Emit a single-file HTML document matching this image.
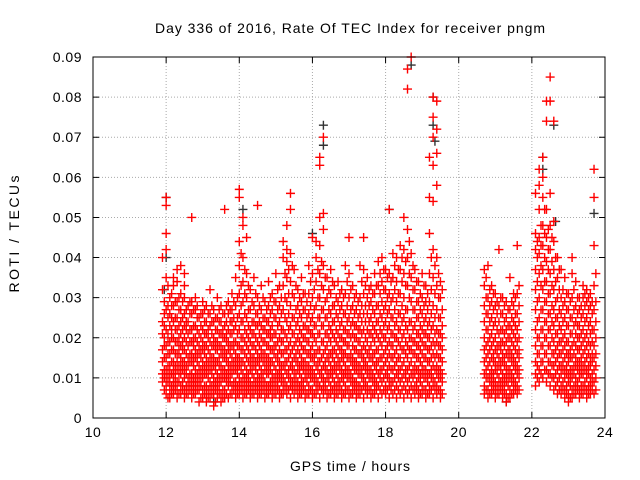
<!DOCTYPE html>
<html><head><meta charset="utf-8"><style>
html,body{margin:0;padding:0;background:#fff;}
svg{display:block;font-family:"Liberation Sans",sans-serif;}
</style></head><body>
<svg id="chart" width="640" height="480">
<text x="350" y="33" font-size="14" text-anchor="middle" textLength="390" lengthAdjust="spacing">Day 336 of 2016, Rate Of TEC Index for receiver pngm</text>
<text x="350" y="471" font-size="14" text-anchor="middle" textLength="120" lengthAdjust="spacing">GPS time / hours</text>
<text transform="translate(19,234) rotate(-90)" font-size="14" text-anchor="middle" textLength="117" lengthAdjust="spacing">ROTI / TECUs</text>
<g id="grid"></g>
<g id="ticks"></g>
<g id="black"></g>
<g id="red"></g>
<rect x="93" y="57" width="512" height="361" fill="none" stroke="#000" stroke-width="1"/>
</svg>
<script>
const xTicks = [10,12,14,16,18,20,22,24];
const yTicks = [0,0.01,0.02,0.03,0.04,0.05,0.06,0.07,0.08,0.09];
const yTickLabels = ["0","0.01","0.02","0.03","0.04","0.05","0.06","0.07","0.08","0.09"];
const segStarts = [11.9, 20.7, 22.1];
const colStep = 0.1;
const redSeg1 = ["9 11 14 17 21 24 32 40","6 8 10 12 15 18 22 27 35 42 46 53 55","5 7 9 11 13 16 19 23 26 30","6 8 10 12 14 17 20 24 28 33 35","5 7 9 12 14 16 19 22 25 29 34 37","6 8 11 13 15 18 21 24 27 31 38","5 7 10 12 14 17 20 23 26 30 33 36","6 8 10 13 15 18 21 24 28","5 7 9 11 14 16 19 22 26 29 50","6 8 10 12 15 17 20 23 27 30","4 7 9 11 13 16 18 21 25","5 7 10 12 14 17 19 22 26 29","4 6 8 11 13 15 18 21 24 28","5 7 9 12 14 16 19 23 26 32","3 6 8 10 13 15 18 20 24 27","5 7 9 11 14 17 19 22 25 30","4 6 9 11 13 16 18 21 24 28","5 7 10 12 15 17 20 23 26 52","5 8 10 12 14 17 19 22 26 29","6 8 11 13 15 18 21 24 27 31","5 7 9 12 14 16 19 23 28 35","6 8 10 13 15 18 22 26 31 38 44 55 57","5 7 9 11 14 17 20 24 29 34 40 48 50","6 8 10 12 15 18 21 25 30 36 45","5 7 9 12 14 16 19 22 27 32","6 8 10 13 15 18 21 24 28 35","5 7 9 11 14 16 19 23 26 30 53","6 8 10 12 15 17 20 23 27 33","5 7 9 12 14 16 19 22 25 29","6 8 11 13 15 18 21 24 28 34","5 7 9 11 14 17 20 23 27 31","6 8 10 12 15 18 21 25 29 36","5 7 10 12 14 17 20 24 28 33","6 8 10 13 16 19 22 27 33 40 44","6 8 11 14 17 20 24 29 35 39 42 48","5 8 10 13 16 19 23 28 34 41 52 56","6 8 10 12 15 18 21 25 30 37","5 7 9 12 14 17 20 24 28 32","6 8 10 13 15 18 21 25 29 35","5 7 10 12 14 17 20 23 27 31","6 8 11 13 16 19 22 26 31 38","5 7 10 12 15 18 21 25 30 36 45","6 8 10 13 16 19 23 28 34 40 44","5 8 11 14 17 21 25 30 36 43 50 63 65","6 8 10 13 16 19 23 27 32 38 47 51 70","5 7 10 12 15 18 21 25 30 35","6 8 11 13 16 19 22 26 31 37","5 7 9 12 14 17 20 24 28 33","6 8 10 13 15 18 21 25 29 34","5 7 10 12 15 17 20 24 28 32","6 8 11 13 16 19 22 26 31 38","5 7 10 12 15 18 21 25 30 36 45","6 8 10 13 15 18 21 24 28 33","5 7 9 12 14 17 20 23 27 31","6 8 11 13 16 19 22 26 30 38","5 8 10 13 15 18 22 26 31 37 45","6 8 11 13 16 19 22 26 30 35","5 7 10 12 15 18 21 25 29 33","6 8 10 13 16 19 22 26 31 36","5 8 11 14 17 20 24 28 33 39","6 9 12 15 18 21 25 29 34 40","6 8 11 14 17 20 24 28 32 37","5 8 10 13 16 19 23 27 31 36 52","6 9 12 15 18 21 25 30 35 41","5 8 11 14 17 20 24 29 34 40","6 9 12 15 18 22 26 31 37 43","5 8 11 14 17 21 25 30 36 42 50","6 9 12 15 18 22 27 33 40 47 82 87","5 8 11 14 17 20 24 29 35 41 90","6 8 11 13 16 19 23 27 32 37","5 7 10 12 15 18 21 25 29 34","6 8 11 13 16 19 22 26 30 36","5 7 10 12 15 18 21 25 29 33","6 8 11 14 17 20 24 29 36 46 55 65","5 8 10 13 16 19 23 28 35 42 54 63 70 75 80","6 8 11 13 16 19 22 27 33 40 58 66 72 79","5 7 10 12 15 18 21 25 30 34"];
const redSeg2 = ["6 8 11 14 17 20 24 28 33 37","5 7 10 13 16 19 22 26 30 38","6 8 10 12 15 18 21 25 29 33","5 7 9 12 14 17 20 24 28 31","6 8 10 13 15 18 21 24 28 42","5 7 9 11 14 16 19 22 26 30","4 6 9 11 13 16 19 22 25 29","5 7 10 12 15 17 20 23 27 35","6 8 10 13 15 18 21 24 28 31","6 8 11 13 16 19 22 26 31 43"];
const redSeg3 = ["8 11 14 18 22 27 32 37 42 46 56","9 12 16 20 25 30 36 41 45 52 58 62","10 14 18 22 27 32 37 43 48 55 60 65","9 12 16 20 24 29 34 39 45 52 74 79","8 11 14 18 22 26 31 36 42 48 56 79 85","7 10 13 16 19 23 27 32 37 44 49 74","6 9 12 15 18 21 25 30 35 40","6 8 11 13 16 19 22 26 30 37","5 7 10 12 15 18 21 25 29 35","4 6 9 11 14 16 19 23 27 31","5 7 10 12 15 18 21 25 30 36 40","6 8 10 13 15 18 21 24 28 34","5 7 10 12 14 17 20 23 27 30","6 8 11 13 16 19 22 26 30 33","5 7 10 12 15 18 21 25 29 32","6 8 10 13 15 18 21 24 28 31","6 9 12 15 18 22 27 33 43 55 62"];
const halfStarts = [11.95, 20.75, 22.15];
const redHalf1 = ["7 10 12 15 18 20 23 26 29","5 9 11 13 16 19 21 25 28 33","6 8 11 14 17 20 22 25 28 31","7 9 11 13 16 19 22 25 29","6 9 11 13 16 18 20 23 27 30","7 9 12 14 17 19 22 25 29","6 8 11 13 16 19 22 24 27","7 9 11 14 16 19 22 26 29","6 8 10 13 15 18 20 23 27","7 9 11 14 16 19 22 25 28","5 8 10 12 15 17 20 23 26","6 8 11 13 16 18 21 24 27","5 7 10 12 14 17 20 22 26","6 8 11 13 15 18 21 24 28","4 7 9 12 14 17 19 22 25","6 8 10 13 15 18 21 24 27","5 7 10 12 15 17 20 22 26","6 9 11 14 16 19 21 24 28","6 9 11 13 16 18 21 24 27","7 9 12 14 17 19 22 25 29","6 8 11 13 15 18 21 25 30","7 9 12 14 17 20 24 28 33 41","6 8 10 13 16 19 22 26 31 37","7 9 11 14 17 20 23 27 33","6 8 11 13 15 18 21 24 29","7 9 12 14 17 20 23 26 31","6 8 10 13 15 18 21 24 28","7 9 11 14 16 19 22 25 30","6 8 11 13 15 18 21 24 27","7 9 12 14 17 20 22 26 30","6 8 10 13 16 18 21 25 29","7 9 11 14 16 19 23 27 32","6 9 11 13 16 19 22 26 30","7 9 12 14 17 21 25 30 36","7 10 12 15 18 22 26 31 37","7 9 12 14 17 21 25 31 38","7 9 11 14 16 19 23 27 33","6 8 11 13 16 19 22 26 30","7 9 12 14 17 20 23 27 31","6 9 11 13 16 19 22 25 29","7 10 12 15 17 21 24 28 34","6 9 11 14 16 20 23 27 32","7 9 12 14 17 21 25 30 37","7 10 12 15 19 23 27 33 39","7 9 12 14 17 21 25 29 35","6 9 11 14 16 20 23 27 32","7 10 12 15 17 21 24 28 34","6 8 11 13 16 19 22 26 30","7 9 12 14 17 20 23 27 31","6 9 11 14 16 19 22 26 30","7 10 12 15 18 21 24 28 34","6 9 11 14 16 20 23 27 32","7 9 12 14 17 20 23 26 30","6 8 11 13 16 19 22 25 29","7 10 12 15 17 21 24 28 34","7 9 12 14 17 20 24 28 33","7 10 12 15 17 21 24 28 32","6 9 11 14 16 20 23 27 31","7 9 12 14 17 21 24 28 33","7 10 12 15 19 22 26 31 36","7 10 13 16 20 23 27 32 37","7 10 12 15 18 22 26 30 35","7 9 12 15 18 21 25 29 34","7 10 13 16 20 23 27 32 38","7 10 12 15 19 22 26 31 37","7 10 13 17 20 24 28 34 40","7 10 12 16 19 23 27 33 39","7 10 13 17 20 24 30 36 44","7 10 12 16 19 22 27 32 38","7 9 12 15 18 21 25 29 34","6 9 11 14 17 20 23 27 31","7 10 12 15 18 21 24 28 33","6 9 11 14 17 20 23 27 31","7 10 12 15 18 22 26 32 40","7 9 12 15 18 21 25 31 38","7 10 12 15 18 21 25 30 36","6 9 11 14 17 20 23 27 32"];
const redHalf2 = ["7 10 12 15 18 22 26 30 35","6 9 11 14 17 20 24 28 32","7 9 11 14 16 19 23 27 31","6 8 11 13 16 18 22 26 29","7 9 12 14 17 19 22 26 30","6 8 10 13 15 18 21 24 28","5 8 10 12 15 17 20 23 27","6 9 11 14 16 19 22 25 29","7 9 12 14 17 20 23 26 30","7 10 12 15 17 20 24 28 33"];
const redHalf3 = ["10 13 16 20 24 29 34 40 44","11 14 18 22 27 33 38 43 48","12 16 20 24 29 34 40 46 52","11 14 18 22 26 31 37 42 47","10 13 16 20 24 28 33 39 45","8 11 14 17 21 25 29 34 40","7 10 13 16 19 23 27 32 37","7 9 12 14 17 20 24 28 32","6 8 11 13 16 19 23 27 31","5 8 10 12 15 17 21 25 29","6 8 11 13 16 19 23 27 32","7 9 12 14 17 20 23 26 30","6 8 11 13 15 18 21 25 28","7 9 12 14 17 20 24 28 31","6 8 11 13 16 19 23 27 30","7 9 11 14 16 19 22 26 29","7 10 13 16 20 24 29 36"];
const blackTimes = [11.95,12.0,12.0,14.1,16.0,16.3,16.3,18.1,18.7,19.3,19.3,19.35,22.3,22.3,22.6,22.65,23.7,21.3,13.3];
const blackValues = [32,40,55,52,46,73,68,52,88,80,73,69,65,62,73,49,51,4,4];
const X0=93,X1=605,Y0=418,Y1=57;
function xs(t){return X0+(t-10)/14*(X1-X0);}
function ys(v){return Y0-v/0.09*(Y0-Y1);}
const NS="http://www.w3.org/2000/svg";
const grid=document.getElementById('grid'), ticks=document.getElementById('ticks');
xTicks.forEach(t=>{
  const x=xs(t);
  if(t>10&&t<24){const l=document.createElementNS(NS,'line');l.setAttribute('x1',x);l.setAttribute('x2',x);l.setAttribute('y1',Y1);l.setAttribute('y2',Y0);l.setAttribute('stroke','#aaa');l.setAttribute('stroke-dasharray','1,2');
  
  
  grid.appendChild(l);}
  const tk=document.createElementNS(NS,'path');tk.setAttribute('d',`M${x},${Y0}v-6M${x},${Y1}v6`);tk.setAttribute('stroke','#000');ticks.appendChild(tk);
  const tx=document.createElementNS(NS,'text');tx.setAttribute('x',x);tx.setAttribute('y',Y0+19);tx.setAttribute('font-size','14');tx.setAttribute('letter-spacing','0.5');tx.setAttribute('text-anchor','middle');tx.textContent=t;
  
  
  ticks.appendChild(tx);
});
yTicks.forEach((v,i)=>{
  const y=ys(v);
  if(i>0&&i<yTicks.length-1){const l=document.createElementNS(NS,'line');l.setAttribute('x1',X0);l.setAttribute('x2',X1);l.setAttribute('y1',y);l.setAttribute('y2',y);l.setAttribute('stroke','#aaa');l.setAttribute('stroke-dasharray','1,2');
  
  
  grid.appendChild(l);}
  const tk=document.createElementNS(NS,'path');tk.setAttribute('d',`M${X0},${y}h6M${X1},${y}h-6`);tk.setAttribute('stroke','#000');ticks.appendChild(tk);
  const tx=document.createElementNS(NS,'text');tx.setAttribute('x',X0-11);tx.setAttribute('y',y+5);tx.setAttribute('font-size','14');tx.setAttribute('letter-spacing','0.5');tx.setAttribute('text-anchor','end');tx.textContent=yTickLabels[i];
  
  
  ticks.appendChild(tx);
});
function plus(g,t,v,color){
  const x=xs(t),y=ys(v);
  const p=document.createElementNS(NS,'path');
  p.setAttribute('d',`M${x-4.5},${y}h9M${x},${y-4.5}v9`);
  p.setAttribute('stroke',color);p.setAttribute('stroke-width','1.4');
  
  
  g.appendChild(p);
}
const bg=document.getElementById('black');
blackTimes.forEach((t,i)=>plus(bg,t,blackValues[i]/1000,'#333'));
const rg=document.getElementById('red');
function drawSegs(segs,starts){
  segs.forEach((seg,si)=>{
    seg.forEach((col,ci)=>{
      const t=starts[si]+ci*colStep;
      col.split(' ').map(Number).forEach(v=>plus(rg,t,v/1000,'#ff0000'));
    });
  });
}
drawSegs([redSeg1,redSeg2,redSeg3],segStarts);
drawSegs([redHalf1,redHalf2,redHalf3],halfStarts);
</script>
</body></html>
